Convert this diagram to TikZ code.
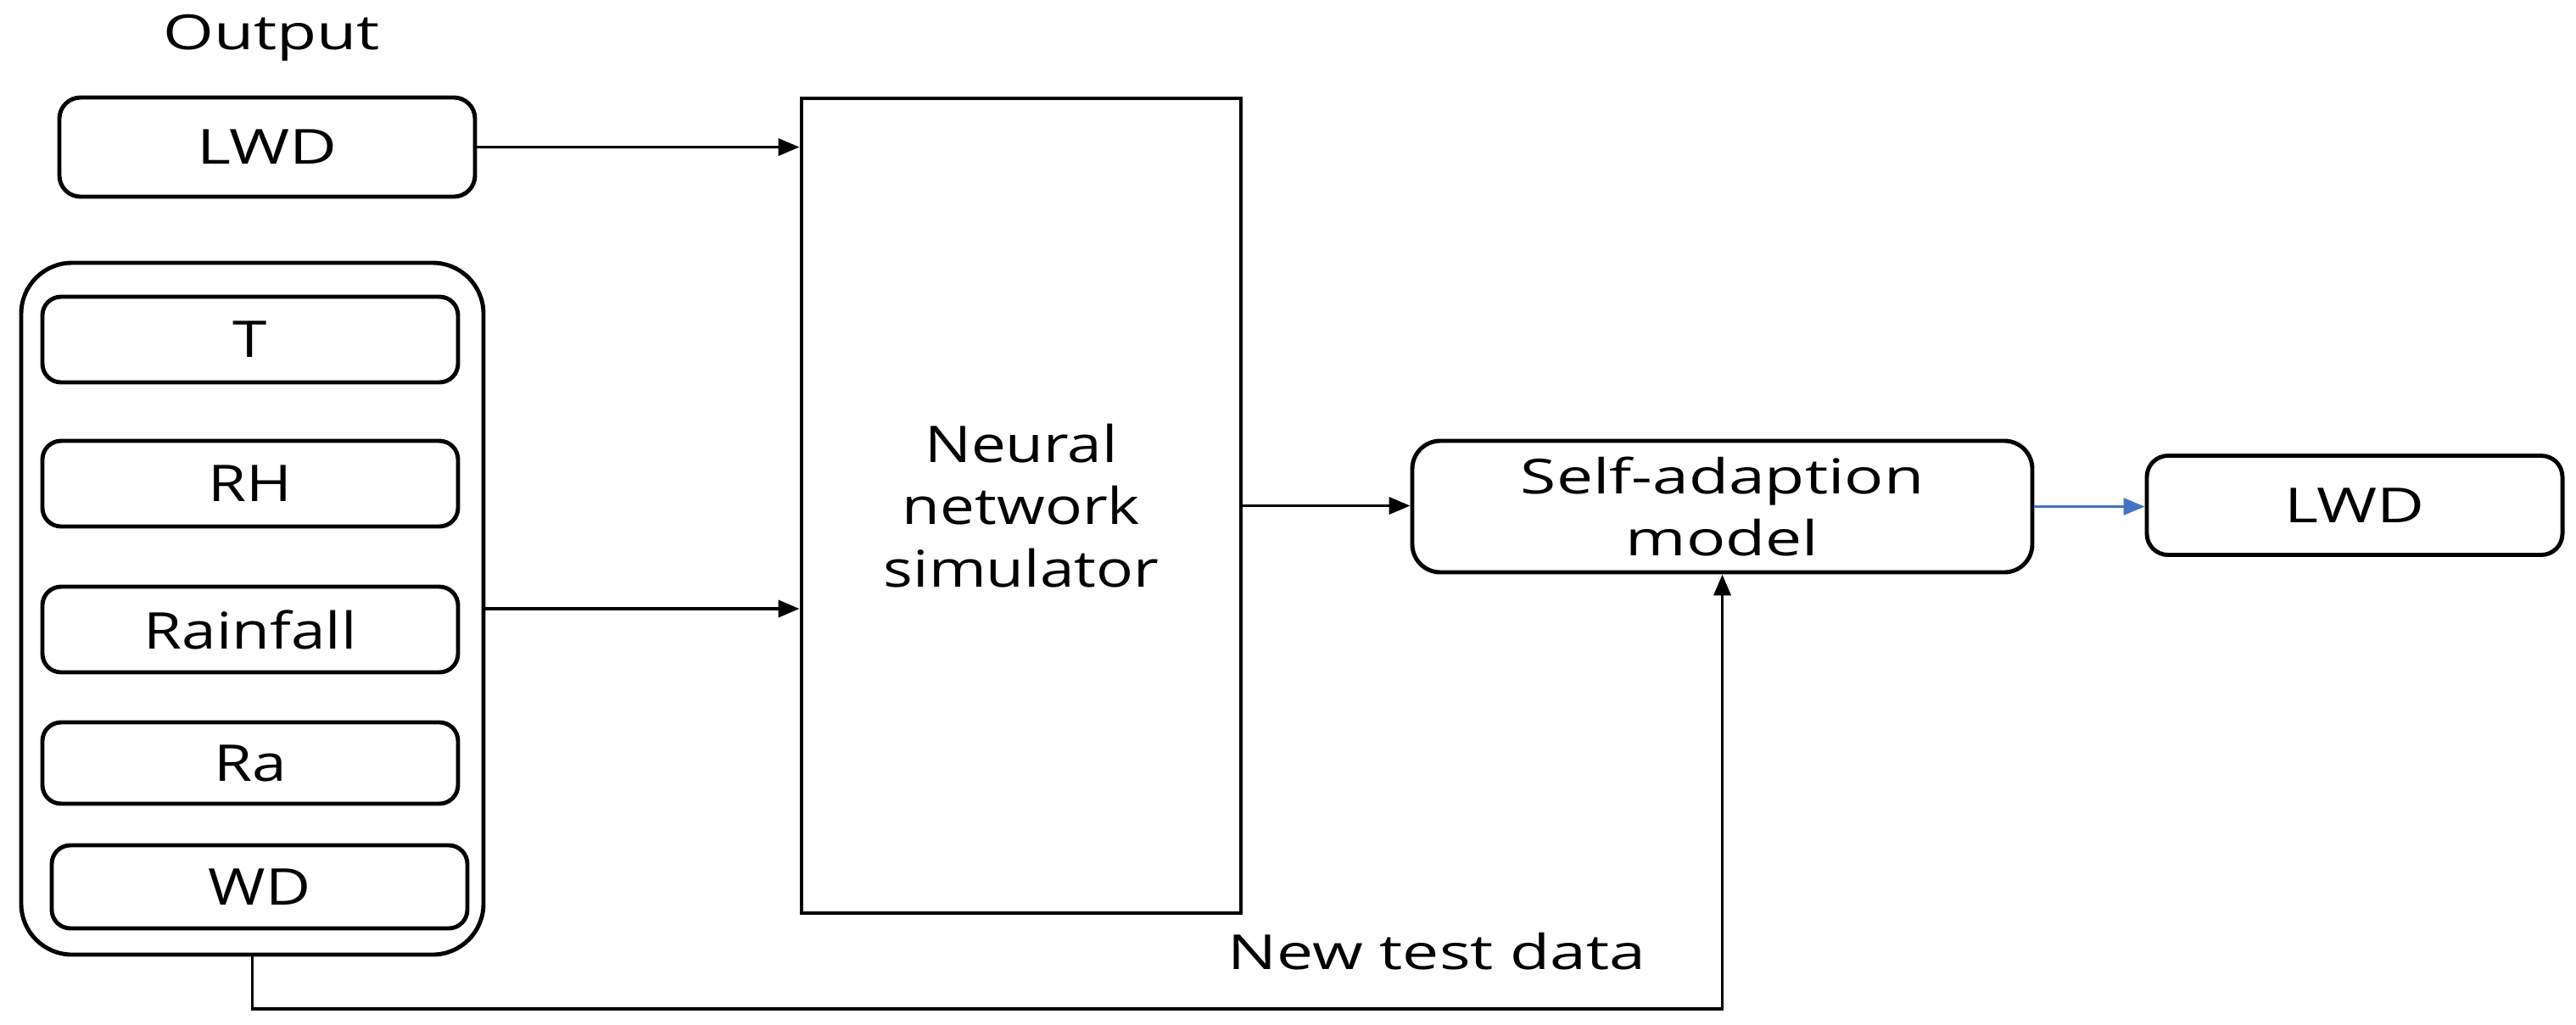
\documentclass[tikz,border=0pt]{standalone}
\usepackage{fontspec}
\setmainfont{Open Sans}[FakeStretch=1.22]
\newfontfamily\thinfont{Open Sans}[FakeStretch=1.35]
\usetikzlibrary{arrows.meta,positioning}
\definecolor{arrblue}{RGB}{68,114,196}

\begin{document}
\begin{tikzpicture}[
  inbox/.style={draw,line width=1.4pt,rounded corners=0.22cm,inner sep=0pt,
    minimum width=4.9cm,minimum height=1.01cm,font=\fontsize{17}{21}\selectfont},
  outbox/.style={draw,line width=1.4pt,rounded corners=0.25cm,inner sep=0pt,
    minimum width=4.9cm,minimum height=1.17cm,font=\thinfont\fontsize{16.2}{20}\selectfont},
  thintext/.style={inner sep=0pt,font=\thinfont\fontsize{16.2}{20}\selectfont},
  arr/.style={line width=1.1pt,-{Triangle[length=0.25cm,width=0.2cm]}}]
  \useasboundingbox (0,0) rectangle (30.37,12.08);
  \node[thintext] (outlbl) at (3.20,11.63) {Output};
  \node[outbox] (lwdin) at (3.15,10.345) {LWD};
  \node[draw,line width=1.4pt,rounded corners=0.6cm,minimum width=5.45cm,minimum height=8.16cm] (grp) at (2.975,4.90) {};
  \node[inbox] (t) at (2.95,8.075) {T};
  \node[inbox] (rh) at (2.95,6.375) {RH};
  \node[inbox] (rain) at (2.95,4.655) {Rainfall};
  \node[inbox,minimum height=0.96cm] (ra) at (2.95,3.08) {Ra};
  \node[inbox,minimum height=0.98cm] (wd) at (3.06,1.62) {WD};
  \node[draw,line width=1.4pt,minimum width=5.18cm,minimum height=9.61cm,align=center,
    font=\fontsize{17}{21}\selectfont] (nn) at (12.04,6.115) {Neural\\network\\simulator};
  \node[outbox,rounded corners=0.33cm,minimum width=7.31cm,minimum height=1.55cm,align=center,
    font=\thinfont\fontsize{16.2}{21}\selectfont] (sa) at (20.305,6.105) {Self-adaption\\model};
  \node[outbox] (lwdout) at (27.76,6.12) {LWD};
  \node[thintext] (ntd) at (16.94,0.86) {New test data};
  \coordinate (low) at (0,0.18);
  \draw[arr] (lwdin.east) -- (lwdin.east -| nn.west);
  \draw[arr] (grp.east) -- (grp.east -| nn.west);
  \draw[arr] (nn.east) -- (nn.east -| sa.west);
  \draw[arr,line width=0.8pt,arrblue] (sa.east) -- (sa.east -| lwdout.west);
  \draw[arr] (grp.south) -- (grp.south |- low) -| (sa.south);
\end{tikzpicture}
\end{document}
